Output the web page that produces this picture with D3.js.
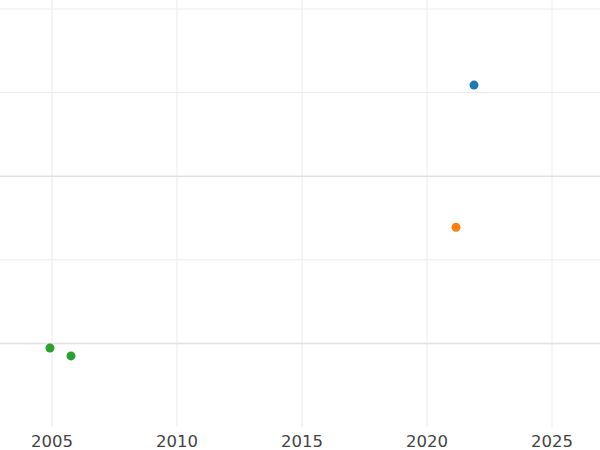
<!DOCTYPE html>
<html><head><meta charset="utf-8">
<script src="https://cdn.jsdelivr.net/npm/d3@7"></script>
<style>body{margin:0;background:#fff}</style></head>
<body><svg id="c" width="600" height="450"></svg>
<script>
// scatter points: year, value, colour
const years  = [2021.88, 2021.16, 2004.92, 2005.76];
const values = [4.09, 2.39, 0.945, 0.85];
const colors = ["#1f77b4", "#ff7f0e", "#2ca02c", "#2ca02c"];
const xTicks = [2005, 2010, 2015, 2020, 2025];
const yTicks = [1, 2, 3, 4, 5];
const yMajor = [1, 3];

const svg = d3.select("#c");
const x = d3.scaleLinear().domain([2002.92, 2026.92]).range([0, 600]);
const y = d3.scaleLinear().domain([0, 5]).range([427, 9]);

svg.append("g").selectAll("line").data(xTicks).join("line")
  .attr("x1", d => x(d)).attr("x2", d => x(d)).attr("y1", 0).attr("y2", 427)
  .attr("stroke", "#ebebeb").attr("stroke-width", 1);
svg.append("g").selectAll("line").data(yTicks).join("line")
  .attr("x1", 0).attr("x2", 600).attr("y1", d => y(d)).attr("y2", d => y(d))
  .attr("stroke", d => yMajor.includes(d) ? "#e0e0e0" : "#ebebeb")
  .attr("stroke-width", d => yMajor.includes(d) ? 1.5 : 1);

svg.append("g").selectAll("text").data(xTicks).join("text")
  .attr("x", d => x(d)).attr("y", 447).attr("text-anchor", "middle")
  .attr("font-family", "DejaVu Sans").attr("font-size", 16.5).attr("fill", "#444")
  .text(d => d);

svg.append("g").selectAll("circle").data(years).join("circle")
  .attr("cx", d => x(d)).attr("cy", (d, i) => y(values[i])).attr("r", 4.5)
  .attr("fill", (d, i) => colors[i]);
</script></body></html>
